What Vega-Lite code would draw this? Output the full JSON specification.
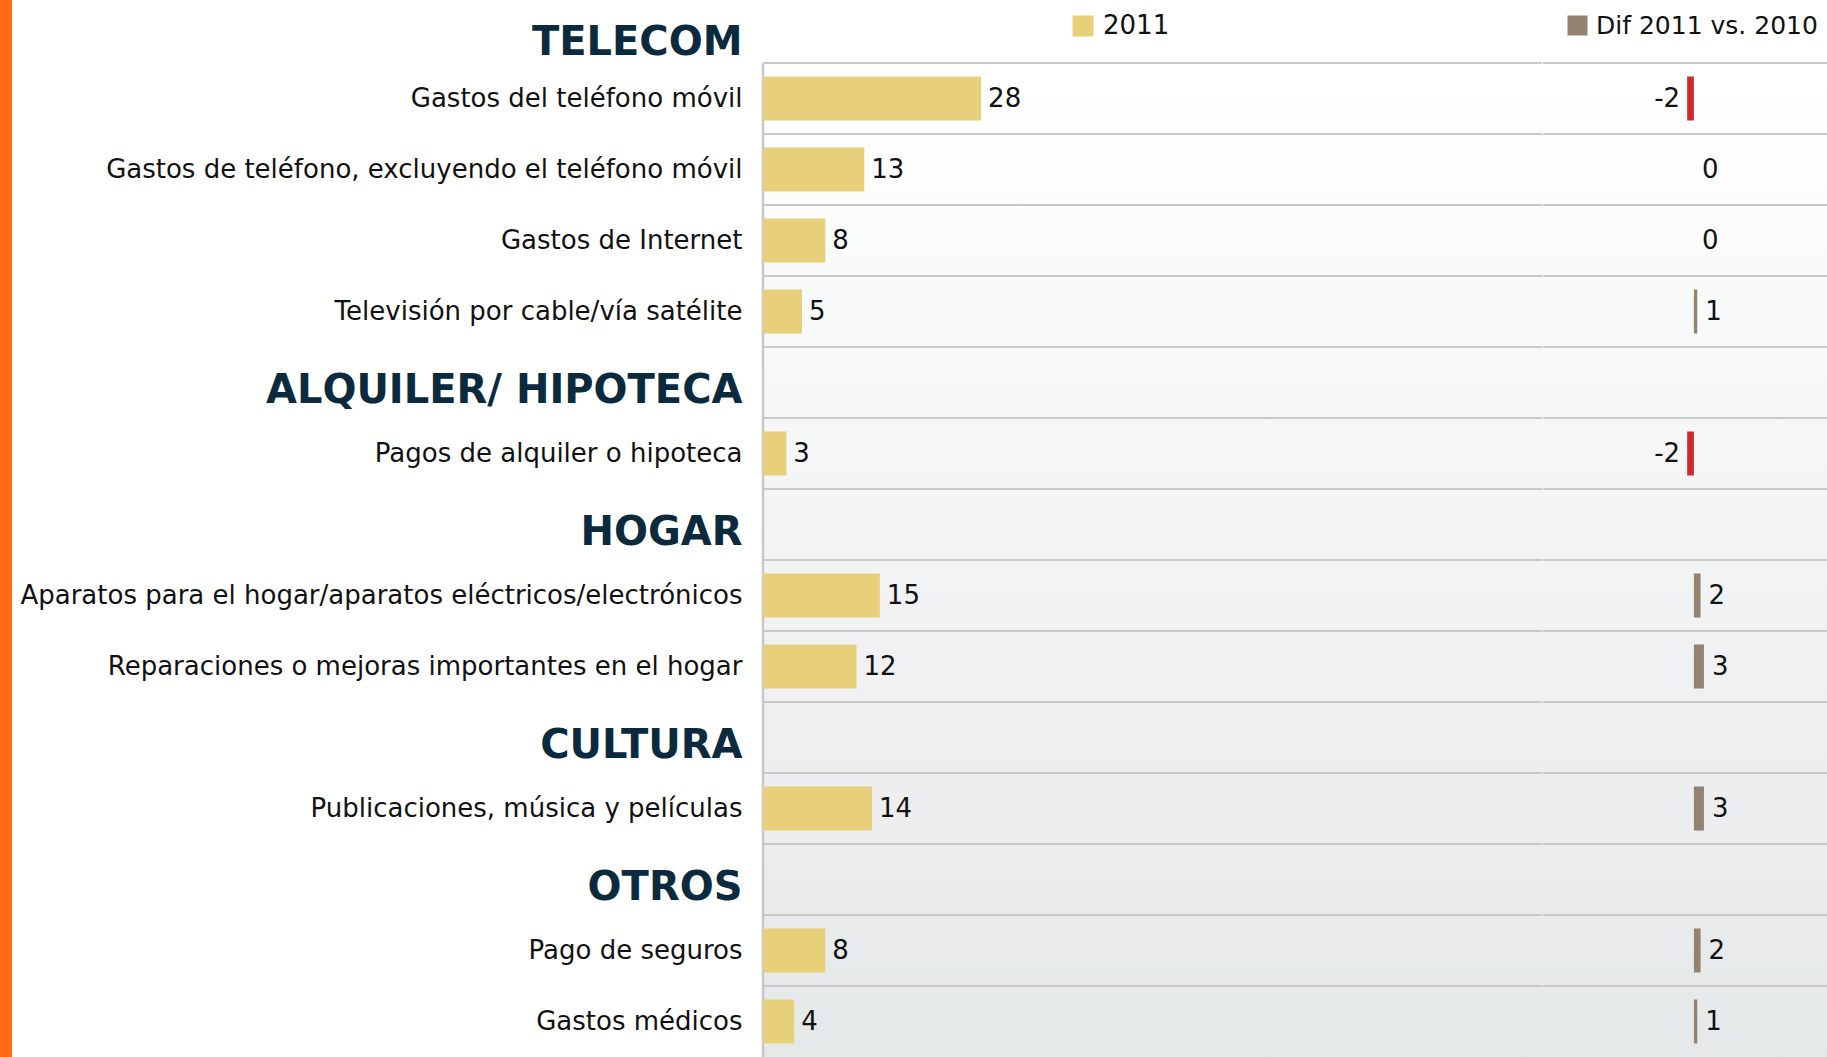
{
  "$schema": "https://vega.github.io/schema/vega-lite/v6.json",
  "padding": 0,
  "background": "#ffffff",
  "spacing": -2,
  "config": {"view": {"stroke": null}},
  "datasets": {
    "rows": [
      {"cat": "TELECOM", "v2011": null, "dif": null},
      {"cat": "Gastos del teléfono móvil", "v2011": 28, "dif": -2},
      {"cat": "Gastos de teléfono, excluyendo el teléfono móvil", "v2011": 13, "dif": 0},
      {"cat": "Gastos de Internet", "v2011": 8, "dif": 0},
      {"cat": "Televisión por cable/vía satélite", "v2011": 5, "dif": 1},
      {"cat": "ALQUILER/ HIPOTECA", "v2011": null, "dif": null},
      {"cat": "Pagos de alquiler o hipoteca", "v2011": 3, "dif": -2},
      {"cat": "HOGAR", "v2011": null, "dif": null},
      {"cat": "Aparatos para el hogar/aparatos eléctricos/electrónicos", "v2011": 15, "dif": 2},
      {"cat": "Reparaciones o mejoras importantes en el hogar", "v2011": 12, "dif": 3},
      {"cat": "CULTURA", "v2011": null, "dif": null},
      {"cat": "Publicaciones, música y películas", "v2011": 14, "dif": 3},
      {"cat": "OTROS", "v2011": null, "dif": null},
      {"cat": "Pago de seguros", "v2011": 8, "dif": 2},
      {"cat": "Gastos médicos", "v2011": 4, "dif": 1}
    ],
    "one": [{"k": 1}]
  },
  "resolve": {"scale": {"x": "independent", "y": "independent", "color": "independent"}, "legend": {"color": "independent"}},
  "hconcat": [
    {
      "width": 12,
      "height": 994,
      "data": {"name": "one"},
      "mark": {"type": "rect", "color": "#fd6a14"},
      "encoding": {
        "y": {"datum": 0, "type": "quantitative", "scale": {"domain": [0, 1], "range": [-63, 1000]}, "axis": null},
        "y2": {"datum": 1}
      }
    },
    {
      "width": 779,
      "height": 994,
      "data": {"name": "rows"},
      "layer": [
        {
          "data": {"name": "one"},
          "mark": {"type": "rect",
            "fill": {"gradient": "linear", "x1": 0, "y1": 0, "x2": 0, "y2": 1, "stops": [{"offset": 0, "color": "#ffffff"}, {"offset": 1, "color": "#e5e8e9"}]},
            "stroke": {"gradient": "linear", "x1": 0, "y1": 0, "x2": 0, "y2": 1, "stops": [{"offset": 0, "color": "#ffffff"}, {"offset": 1, "color": "#e5e8e9"}]},
            "strokeWidth": 2},
          "encoding": {}
        },
        {
          "transform": [{"filter": "datum.cat !== 'TELECOM'"}],
          "mark": {"type": "rule", "color": "#c8c8c8", "strokeWidth": 2},
          "encoding": {
            "y": {
              "field": "cat", "type": "nominal", "bandPosition": 0,
              "scale": {"type": "band", "domain": ["TELECOM", "Gastos del teléfono móvil", "Gastos de teléfono, excluyendo el teléfono móvil", "Gastos de Internet", "Televisión por cable/vía satélite", "ALQUILER/ HIPOTECA", "Pagos de alquiler o hipoteca", "HOGAR", "Aparatos para el hogar/aparatos eléctricos/electrónicos", "Reparaciones o mejoras importantes en el hogar", "CULTURA", "Publicaciones, música y películas", "OTROS", "Pago de seguros", "Gastos médicos"], "range": [-71, 994], "paddingInner": 0, "paddingOuter": 0},
              "axis": {
                "domain": false, "ticks": false, "grid": false,
                "labelPadding": 21, "labelLimit": 1000,
                "labelFont": "DejaVu Sans",
                "labelFontSize": {"condition": {"test": "indexof(['TELECOM','ALQUILER/ HIPOTECA','HOGAR','CULTURA','OTROS'], datum.value) >= 0", "value": 40}, "value": 26},
                "labelFontWeight": {"condition": {"test": "indexof(['TELECOM','ALQUILER/ HIPOTECA','HOGAR','CULTURA','OTROS'], datum.value) >= 0", "value": "bold"}, "value": "normal"},
                "labelColor": {"condition": {"test": "indexof(['TELECOM','ALQUILER/ HIPOTECA','HOGAR','CULTURA','OTROS'], datum.value) >= 0", "value": "#0b2a3e"}, "value": "#111111"},
                "labelOffset": {"condition": [{"test": "datum.value === 'TELECOM'", "value": 15}, {"test": "indexof(['ALQUILER/ HIPOTECA','HOGAR','CULTURA','OTROS'], datum.value) >= 0", "value": 8}], "value": 0},
                "title": " ", "titleAngle": 0, "titleAlign": "left", "titleBaseline": "middle",
                "titleX": -753, "titleY": 400, "titleFontSize": 10, "titleColor": "#ffffff"
              }
            }
          }
        },
        {
          "data": {"name": "one"},
          "mark": {"type": "rule", "color": "#c8c8c8", "strokeWidth": 2.5},
          "encoding": {"x": {"datum": 0, "type": "quantitative", "scale": {"domain": [0, 100], "nice": false}, "axis": null}}
        },
        {
          "mark": {"type": "bar", "height": {"band": 0.62}},
          "encoding": {
            "y": {"field": "cat", "type": "nominal"},
            "x": {"field": "v2011", "type": "quantitative", "scale": {"domain": [0, 100], "nice": false}, "axis": null},
            "color": {
              "datum": "2011", "type": "nominal",
              "scale": {"domain": ["2011"], "range": ["#e8cf7a"]},
              "legend": {"orient": "none", "legendX": 307, "legendY": -50, "title": null, "padding": 0, "symbolType": "square", "symbolSize": 441, "symbolStrokeWidth": 0, "labelFont": "DejaVu Sans", "labelFontSize": 26, "labelColor": "#111111", "labelOffset": 7, "labelLimit": 400}
            }
          }
        },
        {
          "mark": {"type": "text", "align": "left", "dx": 7, "font": "DejaVu Sans", "fontSize": 26, "color": "#111111"},
          "encoding": {
            "y": {"field": "cat", "type": "nominal"},
            "x": {"field": "v2011", "type": "quantitative", "axis": null},
            "text": {"field": "v2011", "type": "nominal"}
          }
        }
      ]
    },
    {
      "width": 285,
      "height": 994,
      "data": {"name": "rows"},
      "layer": [
        {
          "data": {"name": "one"},
          "mark": {"type": "rect",
            "fill": {"gradient": "linear", "x1": 0, "y1": 0, "x2": 0, "y2": 1, "stops": [{"offset": 0, "color": "#ffffff"}, {"offset": 1, "color": "#e5e8e9"}]},
            "stroke": {"gradient": "linear", "x1": 0, "y1": 0, "x2": 0, "y2": 1, "stops": [{"offset": 0, "color": "#ffffff"}, {"offset": 1, "color": "#e5e8e9"}]},
            "strokeWidth": 2},
          "encoding": {}
        },
        {
          "transform": [{"filter": "datum.cat !== 'TELECOM'"}],
          "mark": {"type": "rule", "color": "#c8c8c8", "strokeWidth": 2},
          "encoding": {
            "y": {
              "field": "cat", "type": "nominal", "bandPosition": 0,
              "scale": {"type": "band", "domain": ["TELECOM", "Gastos del teléfono móvil", "Gastos de teléfono, excluyendo el teléfono móvil", "Gastos de Internet", "Televisión por cable/vía satélite", "ALQUILER/ HIPOTECA", "Pagos de alquiler o hipoteca", "HOGAR", "Aparatos para el hogar/aparatos eléctricos/electrónicos", "Reparaciones o mejoras importantes en el hogar", "CULTURA", "Publicaciones, música y películas", "OTROS", "Pago de seguros", "Gastos médicos"], "range": [-71, 994], "paddingInner": 0, "paddingOuter": 0},
              "axis": null
            }
          }
        },
        {
          "mark": {"type": "bar", "height": {"band": 0.62}},
          "encoding": {
            "y": {"field": "cat", "type": "nominal", "axis": null},
            "x": {"field": "dif", "type": "quantitative", "scale": {"domain": [-45, 40], "nice": false, "zero": false}, "axis": null},
            "color": {
              "condition": {"test": "datum.dif < 0", "value": "#d0282c"},
              "datum": "Dif 2011 vs. 2010", "type": "nominal",
              "scale": {"domain": ["Dif 2011 vs. 2010"], "range": ["#948270"]},
              "legend": {"orient": "none", "legendX": 22, "legendY": -50, "title": null, "padding": 0, "symbolType": "square", "symbolSize": 400, "symbolStrokeWidth": 0, "labelFont": "DejaVu Sans", "labelFontSize": 25, "labelColor": "#111111", "labelOffset": 6, "labelLimit": 400}
            }
          }
        },
        {
          "transform": [{"filter": "datum.dif !== null && datum.dif < 0"}],
          "mark": {"type": "text", "align": "right", "dx": -7, "font": "DejaVu Sans", "fontSize": 26, "color": "#111111"},
          "encoding": {
            "y": {"field": "cat", "type": "nominal", "axis": null},
            "x": {"field": "dif", "type": "quantitative", "axis": null},
            "text": {"field": "dif", "type": "nominal"}
          }
        },
        {
          "transform": [{"filter": "datum.dif !== null && datum.dif >= 0"}],
          "mark": {"type": "text", "align": "left", "dx": 8, "font": "DejaVu Sans", "fontSize": 26, "color": "#111111"},
          "encoding": {
            "y": {"field": "cat", "type": "nominal", "axis": null},
            "x": {"field": "dif", "type": "quantitative", "axis": null},
            "text": {"field": "dif", "type": "nominal"}
          }
        }
      ]
    }
  ]
}
